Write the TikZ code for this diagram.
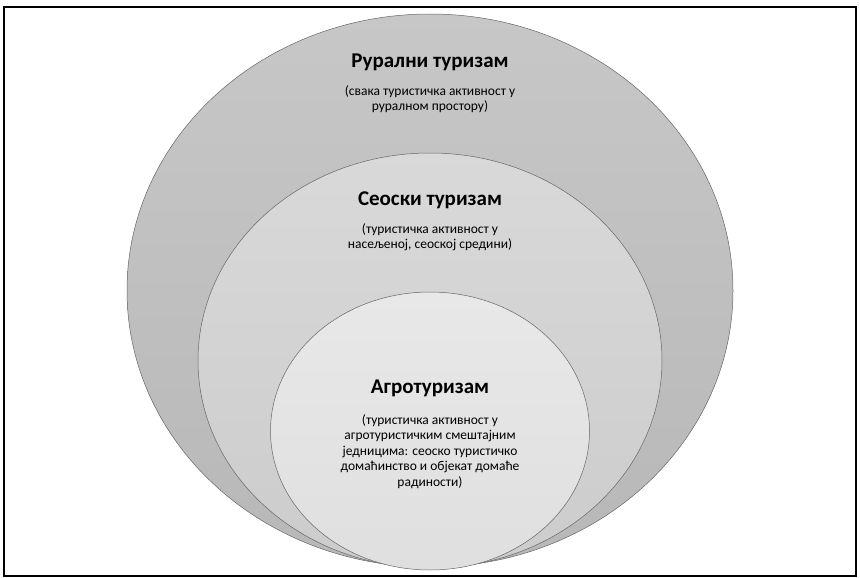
\documentclass[tikz,border=0pt]{standalone}
\usepackage{fontspec}
\setmainfont{Carlito}
\usetikzlibrary{shapes.geometric}

\begin{document}
\begin{tikzpicture}[
    x=1pt, y=-1pt,
    ring/.style={ellipse, draw=black!60, line width=0.5pt, inner sep=0},
    naslov/.style={anchor=base, font=\fontsize{21}{24}\selectfont\bfseries},
    opis/.style={anchor=north, align=center, inner sep=0, font=\fontsize{13.5}{15.6}\selectfont}
]

\useasboundingbox (0,0) rectangle (860,578);

% ============================================
% OKVIR
% ============================================
\draw[line width=1.2pt] (4,7) rectangle (856,576);

% ============================================
% RURALNI TURIZAM (spoljna elipsa)
% ============================================
\node[ring, minimum width=606, minimum height=553,
      top color=gray!44, bottom color=gray!56] (ruralni) at (430,290.5) {};

% ============================================
% SEOSKI TURIZAM (srednja elipsa)
% ============================================
\node[ring, minimum width=464, minimum height=415,
      top color=gray!30, bottom color=gray!40] (seoski) at (430,360.5) {};

% ============================================
% AGROTURIZAM (unutrasnja elipsa)
% ============================================
\node[ring, minimum width=319, minimum height=278,
      top color=gray!18, bottom color=gray!25] (agro) at (430,431) {};

% Tekstovi
\node[naslov] (ruralniNaslov) at (430,68) {Рурални туризам};
\node[opis] (ruralniOpis) at (430,85) {(свака туристичка активност у\\руралном простору)};

\node[naslov] (seoskiNaslov) at (430,205) {Сеоски туризам};
\node[opis] (seoskiOpis) at (430,223) {(туристичка активност у\\насељеној, сеоској средини)};

\node[naslov] (agroNaslov) at (430,393) {Агротуризам};
\node[opis] (agroOpis) at (430,414) {(туристичка активност у\\агротуристичким смештајним\\једницима: сеоско туристичко\\домаћинство и објекат домаће\\радиности)};

\end{tikzpicture}
\end{document}
